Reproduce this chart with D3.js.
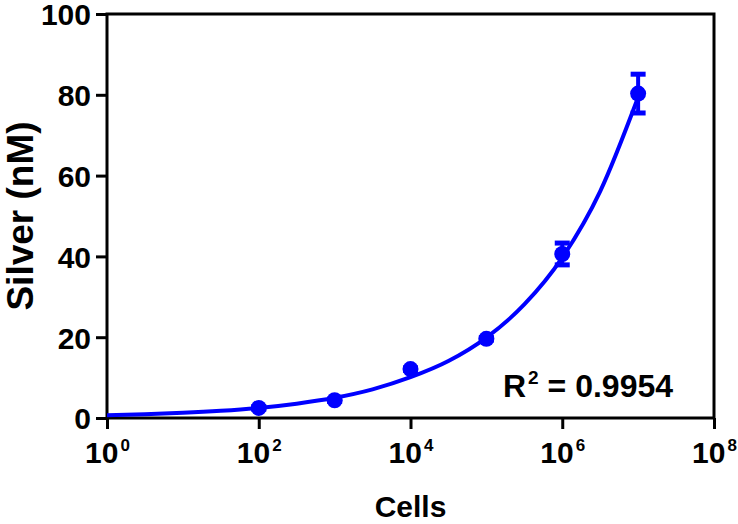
<!DOCTYPE html>
<html>
<head>
<meta charset="utf-8">
<script src="https://cdn.jsdelivr.net/npm/d3@7"></script>
<style>
  html, body { margin: 0; padding: 0; background: #fff; }
  svg { display: block; }
  text { font-family: "Liberation Sans", Arial, sans-serif; font-weight: bold; fill: #000; }
</style>
</head>
<body>
<svg id="chart" width="738" height="524"></svg>
<script>
// ---- data ----
const cells = [1e2, 1e3, 1e4, 1e5, 1e6, 1e7];
const silver = [2.5, 4.4, 12.1, 19.6, 40.6, 80.3];
const silverErr = [0.3, 0.3, 0.3, 0.3, 2.7, 4.8];
// fitted curve
const fitCells = [1, 3.16, 10, 31.6, 100, 316, 1e3, 3.16e3, 1e4, 3.16e4, 1e5, 3.16e5, 1e6, 3.16e6, 1e7];
const fitSilver = [0.7, 0.95, 1.3, 1.8, 2.5, 3.55, 5.0, 7.1, 10.1, 14.1, 19.9, 28.1, 39.7, 56.1, 79.4];
const yTicks = [0, 20, 40, 60, 80, 100];
const xTickExponents = [0, 2, 4, 6, 8];
const xTitle = "Cells";
const yTitle = "Silver (nM)";
const r2Label = "0.9954";

// ---- layout ----
const svg = d3.select("#chart");
const L = 107, R = 714, T = 14, B = 418;
const blue = "#0000ff";

const x = d3.scaleLog().domain([1, 1e8]).range([L, R]);
const y = d3.scaleLinear().domain([0, 100]).range([B, T]);

// y axis
const yAxis = svg.append("g")
  .attr("transform", `translate(${L},0)`)
  .call(d3.axisLeft(y).tickValues(yTicks).tickSize(11).tickSizeOuter(0).tickPadding(5).tickFormat(d3.format("d")));
yAxis.select(".domain").remove();
yAxis.selectAll(".tick line").attr("stroke", "#000").attr("stroke-width", 3);
yAxis.selectAll(".tick text")
  .style("font-family", '"Liberation Sans", Arial, sans-serif')
  .style("font-weight", "bold").style("font-size", "30px").attr("fill", "#000")
  .attr("dy", "0.36em");

// x axis
const xAxis = svg.append("g")
  .attr("transform", `translate(0,${B})`)
  .call(d3.axisBottom(x).tickValues(xTickExponents.map(e => Math.pow(10, e))).tickSize(11).tickSizeOuter(0).tickFormat(() => ""));
xAxis.select(".domain").remove();
xAxis.selectAll(".tick line").attr("stroke", "#000").attr("stroke-width", 3);
xAxis.selectAll(".tick text").remove();
xAxis.selectAll(".tick").each(function(d) {
  const e = Math.round(Math.log10(d));
  const t = d3.select(this).append("text")
    .attr("x", 0).attr("y", 45)
    .attr("text-anchor", "middle")
    .style("font-size", "30px");
  t.append("tspan").text("10");
  t.append("tspan").attr("dx", 2).attr("dy", -12).style("font-size", "17px").text(e);
});

// frame
svg.append("rect")
  .attr("x", L).attr("y", T).attr("width", R - L).attr("height", B - T)
  .attr("fill", "none").attr("stroke", "#000").attr("stroke-width", 3);

// fitted curve
const line = d3.line()
  .x((d, i) => x(fitCells[i]))
  .y((d) => y(d))
  .curve(d3.curveMonotoneX);
svg.append("path")
  .datum(fitSilver)
  .attr("d", line)
  .attr("fill", "none").attr("stroke", blue).attr("stroke-width", 4);

// error bars
const eb = svg.append("g");
cells.forEach((c, i) => {
  const cx = x(c);
  const y1 = y(silver[i] + silverErr[i]), y0 = y(silver[i] - silverErr[i]);
  eb.append("line").attr("x1", cx).attr("x2", cx).attr("y1", y1).attr("y2", y0)
    .attr("stroke", blue).attr("stroke-width", 4);
  [y1, y0].forEach(yy => {
    eb.append("line").attr("x1", cx - 7.5).attr("x2", cx + 7.5).attr("y1", yy).attr("y2", yy)
      .attr("stroke", blue).attr("stroke-width", 5);
  });
});

// points
svg.append("g").selectAll("circle")
  .data(cells)
  .join("circle")
  .attr("cx", d => x(d))
  .attr("cy", (d, i) => y(silver[i]))
  .attr("r", 8)
  .attr("fill", blue);

// R² label
const r2 = svg.append("text")
  .attr("x", 503).attr("y", 397)
  .style("font-size", "32px");
r2.append("tspan").text("R");
r2.append("tspan").attr("dx", 2).attr("dy", -13).style("font-size", "19px").text("2");
r2.append("tspan").attr("dy", 13).text(" = " + r2Label);

// axis titles
svg.append("text")
  .attr("x", (L + R) / 2).attr("y", 517)
  .attr("text-anchor", "middle")
  .style("font-size", "30px")
  .text(xTitle);

svg.append("text")
  .attr("transform", `translate(33,${(T + B) / 2}) rotate(-90)`)
  .attr("text-anchor", "middle")
  .style("font-size", "37px")
  .text(yTitle);
</script>
</body>
</html>
